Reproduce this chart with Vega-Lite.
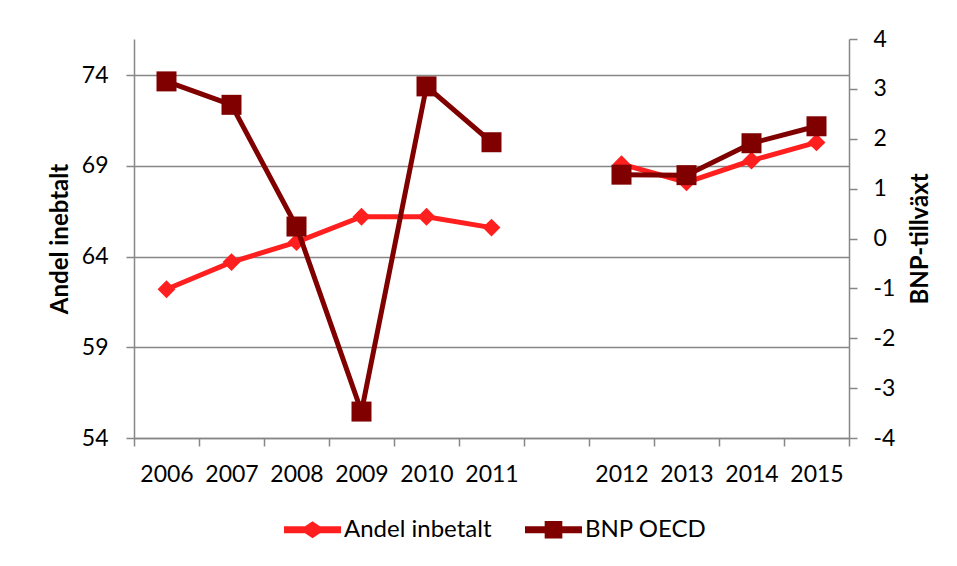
{
  "$schema": "https://vega.github.io/schema/vega-lite/v6.json",
  "width": 715,
  "height": 399,
  "autosize": "none",
  "padding": {"left": 134, "top": 39, "right": 108, "bottom": 128},
  "background": "white",
  "config": {
    "view": {"stroke": null},
    "font": "Lato",
    "axis": {
      "domainColor": "#868686", "domainWidth": 1.5,
      "tickColor": "#868686", "tickWidth": 1.5, "tickSize": 8,
      "labelFont": "Lato", "labelFontSize": 23, "labelColor": "#000000",
      "titleFont": "Lato", "titleFontSize": 24, "titleFontWeight": "bold", "titleColor": "#000000",
      "gridColor": "#868686", "gridWidth": 1.5
    }
  },
  "data": {
    "values": [
      {"year": "2006", "period": "a", "series": "Andel inbetalt", "value": 62.2},
      {"year": "2007", "period": "a", "series": "Andel inbetalt", "value": 63.7},
      {"year": "2008", "period": "a", "series": "Andel inbetalt", "value": 64.8},
      {"year": "2009", "period": "a", "series": "Andel inbetalt", "value": 66.2},
      {"year": "2010", "period": "a", "series": "Andel inbetalt", "value": 66.2},
      {"year": "2011", "period": "a", "series": "Andel inbetalt", "value": 65.6},
      {"year": "2012", "period": "b", "series": "Andel inbetalt", "value": 69.1},
      {"year": "2013", "period": "b", "series": "Andel inbetalt", "value": 68.1},
      {"year": "2014", "period": "b", "series": "Andel inbetalt", "value": 69.3},
      {"year": "2015", "period": "b", "series": "Andel inbetalt", "value": 70.3},
      {"year": "2006", "period": "a", "series": "BNP OECD", "value": 3.15},
      {"year": "2007", "period": "a", "series": "BNP OECD", "value": 2.68},
      {"year": "2008", "period": "a", "series": "BNP OECD", "value": 0.24},
      {"year": "2009", "period": "a", "series": "BNP OECD", "value": -3.47},
      {"year": "2010", "period": "a", "series": "BNP OECD", "value": 3.05},
      {"year": "2011", "period": "a", "series": "BNP OECD", "value": 1.93},
      {"year": "2012", "period": "b", "series": "BNP OECD", "value": 1.28},
      {"year": "2013", "period": "b", "series": "BNP OECD", "value": 1.27},
      {"year": "2014", "period": "b", "series": "BNP OECD", "value": 1.91},
      {"year": "2015", "period": "b", "series": "BNP OECD", "value": 2.25}
    ]
  },
  "encoding": {
    "x": {
      "field": "year", "type": "ordinal", "bandPosition": 0.5,
      "scale": {"type": "band", "domain": ["2006","2007","2008","2009","2010","2011"," ","2012","2013","2014","2015"], "paddingInner": 0, "paddingOuter": 0},
      "axis": {"title": null, "labelAngle": 0, "tickBand": "extent", "labelPadding": 17, "grid": false}
    },
    "color": {
      "field": "series", "type": "nominal",
      "scale": {"domain": ["Andel inbetalt", "BNP OECD"], "range": ["#FF1F1F", "#800000"]},
      "legend": {
        "title": null, "orient": "none", "direction": "horizontal", "legendX": 150, "legendY": 462,
        "labelFont": "Lato", "labelFontSize": 24, "labelColor": "#000000",
        "symbolSize": 3249, "labelOffset": 3, "columnPadding": 33,
        "encode": {
          "symbols": {
            "update": {
              "shape": {"signal": "datum.value === 'Andel inbetalt' ? 'M-1,-0.12 L-0.26,-0.12 L0,-0.3 L0.26,-0.12 L1,-0.12 L1,0.12 L0.26,0.12 L0,0.3 L-0.26,0.12 L-1,0.12 Z' : 'M-1,-0.12 L-0.31,-0.12 L-0.31,-0.31 L0.31,-0.31 L0.31,-0.12 L1,-0.12 L1,0.12 L0.31,0.12 L0.31,0.31 L-0.31,0.31 L-0.31,0.12 L-1,0.12 Z'"},
              "fill": {"signal": "datum.value === 'Andel inbetalt' ? '#FF1F1F' : '#800000'"},
              "strokeWidth": {"value": 0},
              "opacity": {"value": 1}
            }
          }
        }
      }
    },
    "detail": {"field": "period"}
  },
  "layer": [
    {
      "transform": [{"filter": "datum.series === 'Andel inbetalt'"}],
      "mark": {"type": "line", "strokeWidth": 5, "point": {"shape": "diamond", "size": 320, "filled": true, "opacity": 1}},
      "encoding": {
        "y": {
          "field": "value", "type": "quantitative",
          "scale": {"domain": [54, 76], "zero": false, "nice": false},
          "axis": {"orient": "left", "values": [54, 59, 64, 69, 74], "grid": true, "labelPadding": 18, "title": "Andel inebtalt", "titlePadding": 9}
        }
      }
    },
    {
      "transform": [{"filter": "datum.series === 'BNP OECD'"}],
      "mark": {"type": "line", "strokeWidth": 5, "point": {"shape": "square", "size": 400, "filled": true, "opacity": 1}},
      "encoding": {
        "y": {
          "field": "value", "type": "quantitative",
          "scale": {"domain": [-4, 4], "zero": false, "nice": false},
          "axis": {"orient": "right", "values": [-4, -3, -2, -1, 0, 1, 2, 3, 4], "labelExpr": "'' + datum.value", "grid": false, "labelPadding": 16, "title": "BNP-tillväxt", "titleAngle": -90, "titleBaseline": "top", "titlePadding": 14}
        }
      }
    }
  ],
  "resolve": {"scale": {"y": "independent"}}
}
